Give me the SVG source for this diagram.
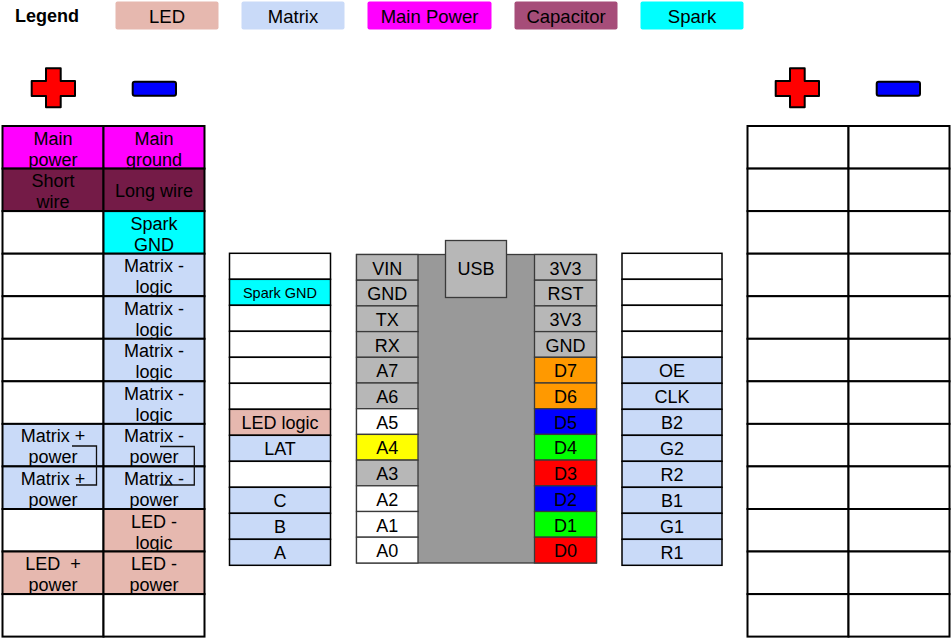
<svg xmlns="http://www.w3.org/2000/svg" width="951" height="638" viewBox="0 0 951 638">
<style>
.t{font-family:"Liberation Sans",Arial,sans-serif;font-size:18px;fill:#000;text-anchor:middle}
.b{font-weight:bold;text-anchor:start}
.lg{font-size:18.5px}
.s{font-size:18px}
.xs{font-size:14.5px}
.cell{stroke:#000;stroke-width:2}
.mc{stroke:#000;stroke-width:1.5}
.pin{stroke:#3a3a3a;stroke-width:1.3}
.w{fill:#fff}.mp{fill:#ff00ff}.cap{fill:#741b47}.capl{fill:#a64d79}.sp{fill:#00ffff}.mx{fill:#c9daf8}.led{fill:#e6b8af}
.g{fill:#b7b7b7}.or{fill:#ff9900}.bl{fill:#0000ff}.gr{fill:#00ff00}.rd{fill:#ff0000}.ye{fill:#ffff00}
.sym{stroke:#000;stroke-width:2;stroke-linejoin:round}
.wire{fill:none;stroke:#111;stroke-width:1.3}
</style>
<rect width="951" height="638" fill="#fff"/>

<g id="legend">
<text class="t b" x="15" y="21.5">Legend</text>
<rect class="led" x="115.5" y="1.5" width="103" height="28" rx="2"/>
<text class="t lg" x="167" y="23">LED</text>
<rect class="mx" x="241.5" y="1.5" width="103" height="28" rx="2"/>
<text class="t lg" x="293" y="23">Matrix</text>
<rect class="mp" x="367.5" y="1.5" width="124" height="28" rx="2"/>
<text class="t lg" x="429.5" y="23">Main Power</text>
<rect class="capl" x="514.5" y="1.5" width="103" height="28" rx="2"/>
<text class="t lg" x="566" y="23">Capacitor</text>
<rect class="sp" x="640.5" y="1.5" width="103" height="28" rx="2"/>
<text class="t lg" x="692" y="23">Spark</text>
</g>

<g id="symbols">
<path class="sym" fill="#ff0000" d="M46,68.3 H60.7 V81 H75 V96 H60.7 V107.3 H46 V96 H31.7 V81 H46 Z"/>
<rect class="sym" fill="#0000ff" x="132.7" y="81.7" width="43.3" height="14" rx="2"/>
<path class="sym" fill="#ff0000" d="M790,68.3 H804.7 V81 H819 V96 H804.7 V107.3 H790 V96 H775.7 V81 H790 Z"/>
<rect class="sym" fill="#0000ff" x="876.7" y="81.7" width="43.3" height="14" rx="2"/>
</g>

<g id="left-grid">
<g id="L0"><rect class="cell mp" x="2.5" y="126" width="101" height="42.6"/><text class="t" x="53" y="144.5">Main</text><text class="t" x="53" y="165.5">power</text>
<rect class="cell mp" x="103.5" y="126" width="101" height="42.6"/><text class="t" x="154" y="144.5">Main</text><text class="t" x="154" y="165.5">ground</text></g>
<g id="L1"><rect class="cell cap" x="2.5" y="168.6" width="101" height="42.5"/><text class="t" x="53" y="187">Short</text><text class="t" x="53" y="208">wire</text>
<rect class="cell cap" x="103.5" y="168.6" width="101" height="42.5"/><text class="t" x="154" y="196.5">Long wire</text></g>
<g id="L2"><rect class="cell w" x="2.5" y="211.1" width="101" height="42.6"/>
<rect class="cell sp" x="103.5" y="211.1" width="101" height="42.6"/><text class="t" x="154" y="229.6">Spark</text><text class="t" x="154" y="250.6">GND</text></g>
<g id="L3"><rect class="cell w" x="2.5" y="253.7" width="101" height="42.5"/>
<rect class="cell mx" x="103.5" y="253.7" width="101" height="42.5"/><text class="t" x="154" y="272.2">Matrix -</text><text class="t" x="154" y="293.2">logic</text></g>
<g id="L4"><rect class="cell w" x="2.5" y="296.2" width="101" height="42.6"/>
<rect class="cell mx" x="103.5" y="296.2" width="101" height="42.6"/><text class="t" x="154" y="314.7">Matrix -</text><text class="t" x="154" y="335.7">logic</text></g>
<g id="L5"><rect class="cell w" x="2.5" y="338.8" width="101" height="42.5"/>
<rect class="cell mx" x="103.5" y="338.8" width="101" height="42.5"/><text class="t" x="154" y="357.3">Matrix -</text><text class="t" x="154" y="378.3">logic</text></g>
<g id="L6"><rect class="cell w" x="2.5" y="381.3" width="101" height="42.6"/>
<rect class="cell mx" x="103.5" y="381.3" width="101" height="42.6"/><text class="t" x="154" y="399.8">Matrix -</text><text class="t" x="154" y="420.8">logic</text></g>
<g id="L7"><rect class="cell mx" x="2.5" y="423.9" width="101" height="42.5"/><text class="t" x="53" y="442.4">Matrix +</text><text class="t" x="53" y="463.4">power</text>
<rect class="cell mx" x="103.5" y="423.9" width="101" height="42.5"/><text class="t" x="154" y="442.4">Matrix -</text><text class="t" x="154" y="463.4">power</text></g>
<g id="L8"><rect class="cell mx" x="2.5" y="466.4" width="101" height="42.6"/><text class="t" x="53" y="484.9">Matrix +</text><text class="t" x="53" y="505.9">power</text>
<rect class="cell mx" x="103.5" y="466.4" width="101" height="42.6"/><text class="t" x="154" y="484.9">Matrix -</text><text class="t" x="154" y="505.9">power</text></g>
<g id="L9"><rect class="cell w" x="2.5" y="509" width="101" height="42.5"/>
<rect class="cell led" x="103.5" y="509" width="101" height="42.5"/><text class="t" x="154" y="527.5">LED -</text><text class="t" x="154" y="548.5">logic</text></g>
<g id="L10"><rect class="cell led" x="2.5" y="551.5" width="101" height="42.6"/><text class="t" x="53" y="570" style="white-space:pre">LED  +</text><text class="t" x="53" y="591">power</text>
<rect class="cell led" x="103.5" y="551.5" width="101" height="42.6"/><text class="t" x="154" y="570">LED -</text><text class="t" x="154" y="591">power</text></g>
<g id="L11"><rect class="cell w" x="2.5" y="594.1" width="101" height="42.5"/>
<rect class="cell w" x="103.5" y="594.1" width="101" height="42.5"/></g>
</g>

<g id="mid-left">
<rect class="mc w" x="229.5" y="253.3" width="101" height="26"/>
<rect class="mc sp" x="229.5" y="279.3" width="101" height="26"/><text class="t xs" x="280" y="297.5">Spark GND</text>
<rect class="mc w" x="229.5" y="305.3" width="101" height="26"/>
<rect class="mc w" x="229.5" y="331.3" width="101" height="26"/>
<rect class="mc w" x="229.5" y="357.3" width="101" height="26"/>
<rect class="mc w" x="229.5" y="383.3" width="101" height="26"/>
<rect class="mc led" x="229.5" y="409.3" width="101" height="26"/><text class="t s" x="280" y="429">LED logic</text>
<rect class="mc mx" x="229.5" y="435.3" width="101" height="26"/><text class="t s" x="280" y="455">LAT</text>
<rect class="mc w" x="229.5" y="461.3" width="101" height="26"/>
<rect class="mc mx" x="229.5" y="487.3" width="101" height="26"/><text class="t s" x="280" y="507">C</text>
<rect class="mc mx" x="229.5" y="513.3" width="101" height="26"/><text class="t s" x="280" y="533">B</text>
<rect class="mc mx" x="229.5" y="539.3" width="101" height="26"/><text class="t s" x="280" y="559">A</text>
</g>

<g id="spark">
<rect class="pin" fill="#999999" x="356.5" y="254.5" width="240" height="308.5"/>
<g id="left-pins">
<rect class="pin g" x="356.5" y="254.5" width="61.5" height="25.7"/><text class="t s" x="387.3" y="274.5">VIN</text>
<rect class="pin g" x="356.5" y="280.2" width="61.5" height="25.7"/><text class="t s" x="387.3" y="300.2">GND</text>
<rect class="pin g" x="356.5" y="305.9" width="61.5" height="25.7"/><text class="t s" x="387.3" y="325.9">TX</text>
<rect class="pin g" x="356.5" y="331.6" width="61.5" height="25.7"/><text class="t s" x="387.3" y="351.6">RX</text>
<rect class="pin g" x="356.5" y="357.3" width="61.5" height="25.7"/><text class="t s" x="387.3" y="377.3">A7</text>
<rect class="pin g" x="356.5" y="383" width="61.5" height="25.7"/><text class="t s" x="387.3" y="403">A6</text>
<rect class="pin w" x="356.5" y="408.7" width="61.5" height="25.7"/><text class="t s" x="387.3" y="428.7">A5</text>
<rect class="pin ye" x="356.5" y="434.4" width="61.5" height="25.7"/><text class="t s" x="387.3" y="454.4">A4</text>
<rect class="pin g" x="356.5" y="460.1" width="61.5" height="25.7"/><text class="t s" x="387.3" y="480.1">A3</text>
<rect class="pin w" x="356.5" y="485.8" width="61.5" height="25.7"/><text class="t s" x="387.3" y="505.8">A2</text>
<rect class="pin w" x="356.5" y="511.5" width="61.5" height="25.7"/><text class="t s" x="387.3" y="531.5">A1</text>
<rect class="pin w" x="356.5" y="537.2" width="61.5" height="25.8"/><text class="t s" x="387.3" y="557.2">A0</text>
</g>
<g id="right-pins">
<rect class="pin g" x="534.5" y="254.5" width="62" height="25.7"/><text class="t s" x="565.5" y="274.5">3V3</text>
<rect class="pin g" x="534.5" y="280.2" width="62" height="25.7"/><text class="t s" x="565.5" y="300.2">RST</text>
<rect class="pin g" x="534.5" y="305.9" width="62" height="25.7"/><text class="t s" x="565.5" y="325.9">3V3</text>
<rect class="pin g" x="534.5" y="331.6" width="62" height="25.7"/><text class="t s" x="565.5" y="351.6">GND</text>
<rect class="pin or" x="534.5" y="357.3" width="62" height="25.7"/><text class="t s" x="565.5" y="377.3">D7</text>
<rect class="pin or" x="534.5" y="383" width="62" height="25.7"/><text class="t s" x="565.5" y="403">D6</text>
<rect class="pin bl" x="534.5" y="408.7" width="62" height="25.7"/><text class="t s" x="565.5" y="428.7">D5</text>
<rect class="pin gr" x="534.5" y="434.4" width="62" height="25.7"/><text class="t s" x="565.5" y="454.4">D4</text>
<rect class="pin rd" x="534.5" y="460.1" width="62" height="25.7"/><text class="t s" x="565.5" y="480.1">D3</text>
<rect class="pin bl" x="534.5" y="485.8" width="62" height="25.7"/><text class="t s" x="565.5" y="505.8">D2</text>
<rect class="pin gr" x="534.5" y="511.5" width="62" height="25.7"/><text class="t s" x="565.5" y="531.5">D1</text>
<rect class="pin rd" x="534.5" y="537.2" width="62" height="25.8"/><text class="t s" x="565.5" y="557.2">D0</text>
</g>
<g id="usb"><rect class="pin g" x="445.5" y="240.5" width="61" height="57"/><text class="t s" x="476" y="275">USB</text></g>
</g>

<g id="mid-right">
<rect class="mc w" x="622" y="253.3" width="100" height="26"/>
<rect class="mc w" x="622" y="279.3" width="100" height="26"/>
<rect class="mc w" x="622" y="305.3" width="100" height="26"/>
<rect class="mc w" x="622" y="331.3" width="100" height="26"/>
<rect class="mc mx" x="622" y="357.3" width="100" height="26"/><text class="t s" x="672" y="377">OE</text>
<rect class="mc mx" x="622" y="383.3" width="100" height="26"/><text class="t s" x="672" y="403">CLK</text>
<rect class="mc mx" x="622" y="409.3" width="100" height="26"/><text class="t s" x="672" y="429">B2</text>
<rect class="mc mx" x="622" y="435.3" width="100" height="26"/><text class="t s" x="672" y="455">G2</text>
<rect class="mc mx" x="622" y="461.3" width="100" height="26"/><text class="t s" x="672" y="481">R2</text>
<rect class="mc mx" x="622" y="487.3" width="100" height="26"/><text class="t s" x="672" y="507">B1</text>
<rect class="mc mx" x="622" y="513.3" width="100" height="26"/><text class="t s" x="672" y="533">G1</text>
<rect class="mc mx" x="622" y="539.3" width="100" height="26"/><text class="t s" x="672" y="559">R1</text>
</g>

<g id="right-grid" class="cell w">
<rect x="747.5" y="126" width="101" height="42.6"/><rect x="848.5" y="126" width="101" height="42.6"/>
<rect x="747.5" y="168.6" width="101" height="42.5"/><rect x="848.5" y="168.6" width="101" height="42.5"/>
<rect x="747.5" y="211.1" width="101" height="42.6"/><rect x="848.5" y="211.1" width="101" height="42.6"/>
<rect x="747.5" y="253.7" width="101" height="42.5"/><rect x="848.5" y="253.7" width="101" height="42.5"/>
<rect x="747.5" y="296.2" width="101" height="42.6"/><rect x="848.5" y="296.2" width="101" height="42.6"/>
<rect x="747.5" y="338.8" width="101" height="42.5"/><rect x="848.5" y="338.8" width="101" height="42.5"/>
<rect x="747.5" y="381.3" width="101" height="42.6"/><rect x="848.5" y="381.3" width="101" height="42.6"/>
<rect x="747.5" y="423.9" width="101" height="42.5"/><rect x="848.5" y="423.9" width="101" height="42.5"/>
<rect x="747.5" y="466.4" width="101" height="42.6"/><rect x="848.5" y="466.4" width="101" height="42.6"/>
<rect x="747.5" y="509" width="101" height="42.5"/><rect x="848.5" y="509" width="101" height="42.5"/>
<rect x="747.5" y="551.5" width="101" height="42.6"/><rect x="848.5" y="551.5" width="101" height="42.6"/>
<rect x="747.5" y="594.1" width="101" height="42.5"/><rect x="848.5" y="594.1" width="101" height="42.5"/>
</g>

<g id="connectors">
<path class="wire" d="M72,446 H96.5 V485 H76"/>
<path class="wire" d="M160,446.5 H194.3 V485 H159.5"/>
</g>
</svg>
